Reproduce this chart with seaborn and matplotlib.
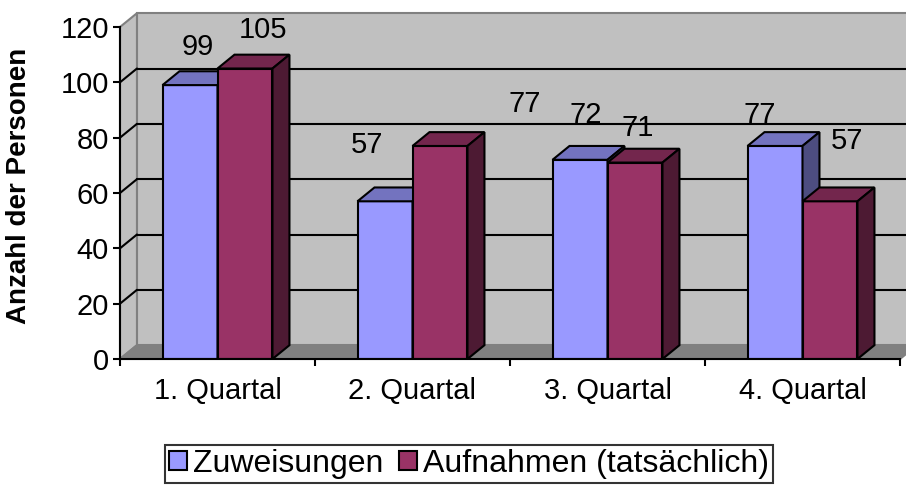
#!/usr/bin/env python3
# plot.py - Zuweisungen vs. Aufnahmen per Quartal (Excel-style 3D columns)
import pandas as pd
import matplotlib.pyplot as plt
from matplotlib.patches import Polygon, Patch
import seaborn as sns

# Data
quartale = ["1. Quartal", "2. Quartal", "3. Quartal", "4. Quartal"]
zuweisungen = [99, 57, 72, 77]
aufnahmen = [105, 77, 71, 57]
serien = ["Zuweisungen", "Aufnahmen (tatsächlich)"]

# Styles
FRONT = ["#9999FF", "#993366"]
TOP = ["#7373BF", "#73264D"]
SIDE = ["#4D4D80", "#4D1A33"]
WALL = "#C0C0C0"
FLOOR = "#808080"
EDGE = "#808080"
FS = 21

# 3D depth in data units (x: category units, y: value units)
DX = 0.087
DY = 5.0
YMAX = 120

# label offsets from bar top centre (pixels), mimicking the Excel layout
LABEL_OFFSETS = [
    [(8, 38), (-18, 56), (6, 45), (-15, 31)],
    [(18, 39), (85, 42), (3, 35), (17, 60)],
]

df = pd.DataFrame({
    "Quartal": quartale * 2,
    "Anzahl": zuweisungen + aufnahmen,
    "Serie": [serien[0]] * 4 + [serien[1]] * 4,
})

sns.set_theme(style="white")
plt.rcParams["font.family"] = ["Liberation Sans", "DejaVu Sans"]
for key in ["text.color", "xtick.color", "ytick.color", "axes.labelcolor"]:
    plt.rcParams[key] = "black"

fig = plt.figure(figsize=(9.06, 4.88), dpi=100)
ax = fig.add_axes([120 / 906, 129 / 488, 780 / 906, 332 / 488])
ax.set_facecolor("none")

sns.barplot(data=df, x="Quartal", y="Anzahl", hue="Serie", palette=FRONT,
            width=0.564, saturation=1, edgecolor="black", linewidth=1.5,
            legend=False, ax=ax)

ax.set_xlim(-0.5, 3.5)
ax.set_ylim(0, YMAX)
x0, x1 = ax.get_xlim()

# walls and floor
ax.add_patch(Polygon([(x0 + DX, DY), (x1 + DX, DY), (x1 + DX, YMAX + DY), (x0 + DX, YMAX + DY)],
                     closed=True, facecolor=WALL, edgecolor=EDGE, lw=1.5, zorder=0.5, clip_on=False))
ax.add_patch(Polygon([(x0, 0), (x0 + DX, DY), (x0 + DX, YMAX + DY), (x0, YMAX)],
                     closed=True, facecolor=WALL, edgecolor=EDGE, lw=1.5, zorder=0.5, clip_on=False))
ax.add_patch(Polygon([(x0, 0), (x1, 0), (x1 + DX, DY), (x0 + DX, DY)],
                     closed=True, facecolor=FLOOR, edgecolor=EDGE, lw=1.5, zorder=0.5, clip_on=False))

# gridlines on back and side wall
for yv in range(20, YMAX, 20):
    ax.plot([x0 + DX, x1 + DX], [yv + DY, yv + DY], color="black", lw=1.5, zorder=0.6, clip_on=False)
    ax.plot([x0, x0 + DX], [yv, yv + DY], color="black", lw=1.5, zorder=0.6, clip_on=False)

# 3D faces for each bar
for j, cont in enumerate(ax.containers):
    z = 3 + j
    for i, rect in enumerate(cont.patches):
        bx, bw, bh = rect.get_x(), rect.get_width(), rect.get_height()
        rect.set_zorder(z)
        ax.add_patch(Polygon([(bx, bh), (bx + bw, bh), (bx + bw + DX, bh + DY), (bx + DX, bh + DY)],
                             closed=True, facecolor=TOP[j], edgecolor="black", lw=1.5,
                             zorder=z, clip_on=False))
        ax.add_patch(Polygon([(bx + bw, 0), (bx + bw + DX, DY), (bx + bw + DX, bh + DY), (bx + bw, bh)],
                             closed=True, facecolor=SIDE[j], edgecolor="black", lw=1.5,
                             zorder=z, clip_on=False))
        ox, oy = LABEL_OFFSETS[j][i]
        ax.annotate(f"{bh:.0f}", xy=(bx + bw / 2, bh), xytext=(ox, oy),
                    textcoords="offset pixels", ha="center", va="center",
                    fontsize=FS, color="black", zorder=10, annotation_clip=False)

# axes styling
for s in ["top", "right"]:
    ax.spines[s].set_visible(False)
for s in ["left", "bottom"]:
    ax.spines[s].set_color("black")
    ax.spines[s].set_linewidth(1.5)
    ax.spines[s].set_zorder(6)

ax.set_yticks(range(0, YMAX + 1, 20))
ax.tick_params(axis="y", which="major", length=5, width=1.5, color="black",
               labelsize=FS, pad=3, left=True)
ax.set_xticks(range(len(quartale)))
ax.set_xticklabels(quartale)
ax.set_xticks([x0 + k for k in range(len(quartale) + 1)], minor=True)
ax.tick_params(axis="x", which="major", length=0, labelsize=FS, pad=13)
ax.tick_params(axis="x", which="minor", length=5, width=1.5, color="black", bottom=True)
ax.set_xlabel("")
ax.set_ylabel("")

fig.text(19 / 906, 0.62, "Anzahl der Personen", rotation=90, ha="center", va="center",
         fontsize=20, fontweight="bold")

handles = [Patch(facecolor=FRONT[k], edgecolor="black", lw=1.5) for k in range(2)]
leg = fig.legend(handles, serien, loc="center", bbox_to_anchor=(0.518, 0.049), ncol=2,
                 fontsize=23, frameon=True, fancybox=False, edgecolor="black",
                 handlelength=0.55, handleheight=0.55, handletextpad=0.2, columnspacing=0.5,
                 borderpad=0.12, borderaxespad=0)
leg.get_frame().set_linewidth(1.5)

fig.savefig("out.png", dpi=100, facecolor="white")
